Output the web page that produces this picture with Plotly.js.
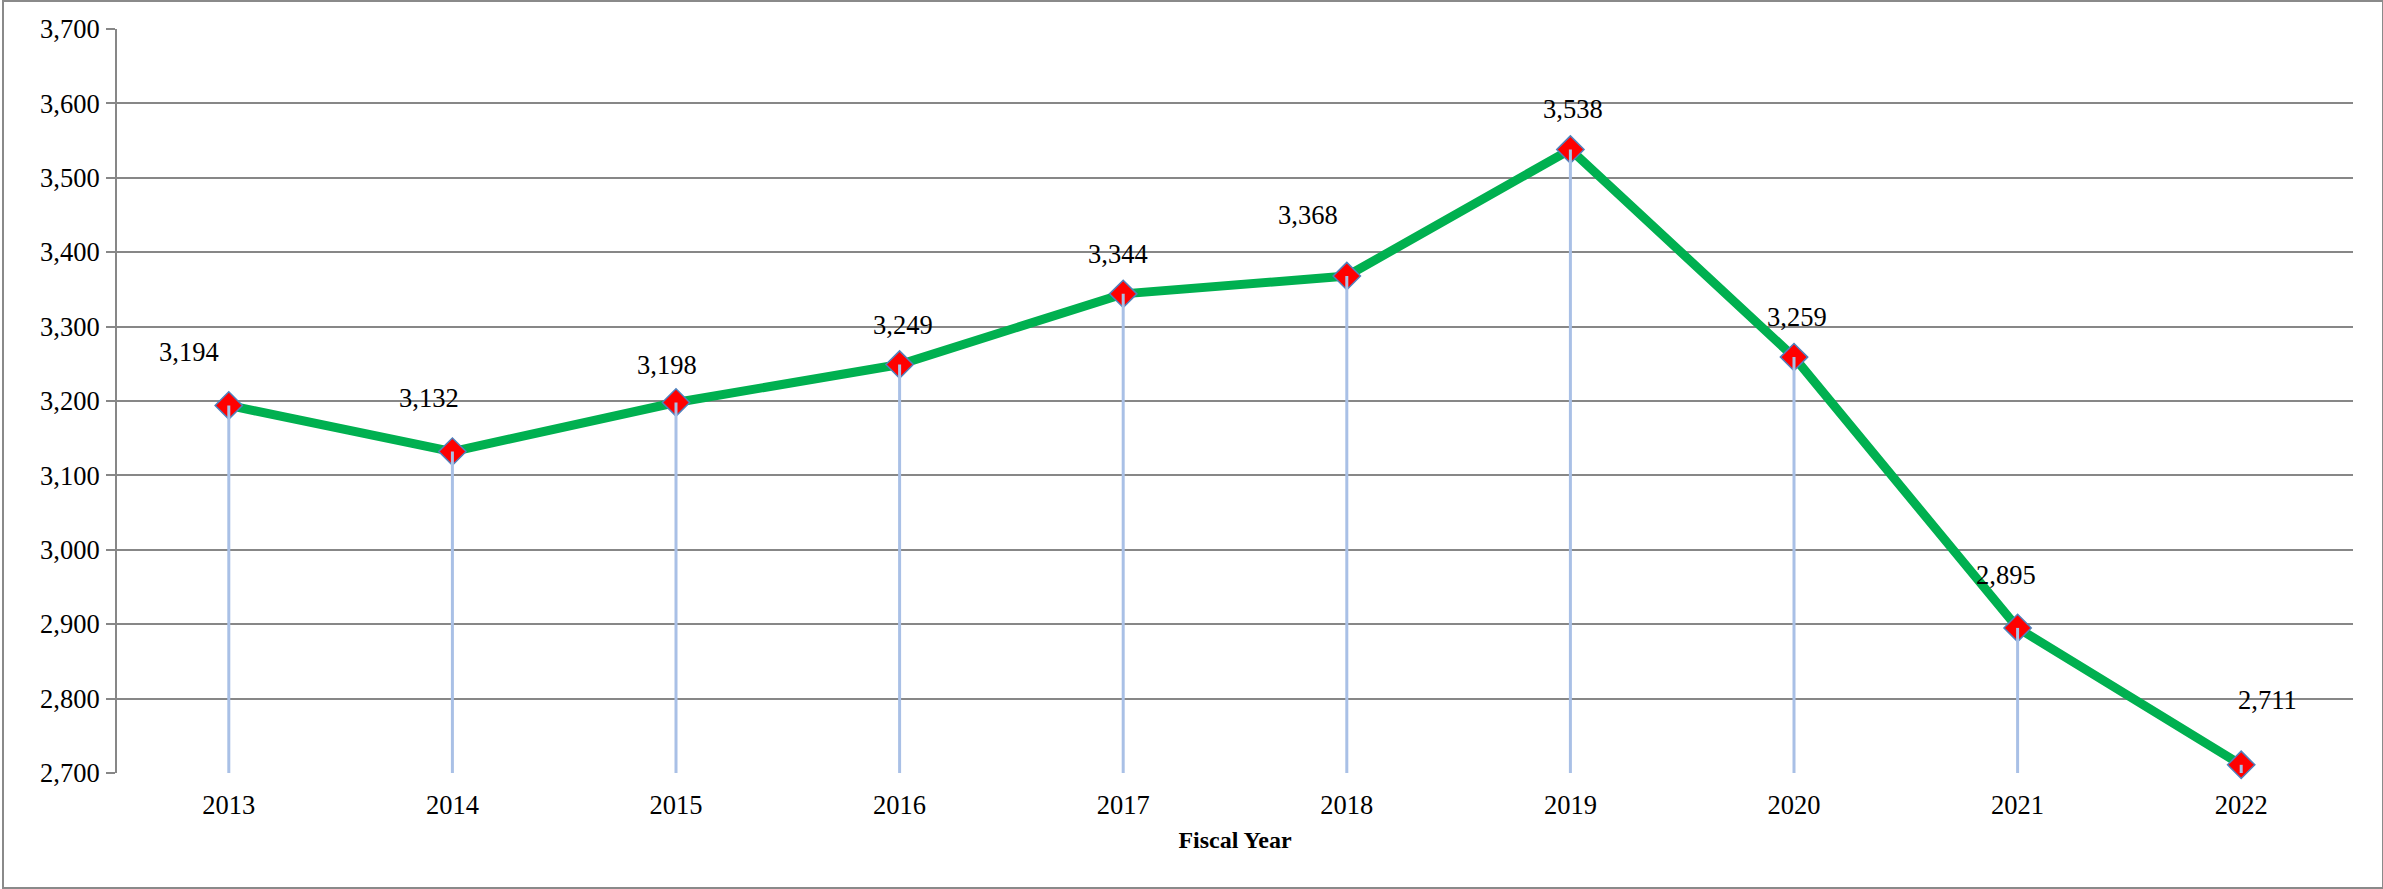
<!DOCTYPE html>
<html>
<head>
<meta charset="utf-8">
<script src="https://cdn.plot.ly/plotly-3.0.1.min.js"></script>
<style>
html, body { margin: 0; padding: 0; background: #ffffff; }
#chart { width: 2383px; height: 889px; }
#frame { position: absolute; left: 2px; top: 0px; width: 2378px; height: 885px; border: 2px solid #8a8a8a; pointer-events: none; }
</style>
</head>
<body>
<div id="chart"></div>
<div id="frame"></div>
<script>
// Data
const years = ["2013", "2014", "2015", "2016", "2017", "2018", "2019", "2020", "2021", "2022"];
const values = [3194, 3132, 3198, 3249, 3344, 3368, 3538, 3259, 2895, 2711];
const yTickVals = [2700, 2800, 2900, 3000, 3100, 3200, 3300, 3400, 3500, 3600, 3700];
const xTitle = "Fiscal Year";

// Label offsets (style, pixels)
const labelDx = [-40, -23, -9, 3, -5, -39, 3, 3, -12, 26];
const labelDy = [53, 54, 37, 40, 40, 61, 41, 40, 53, 65];

const FONT = "Liberation Serif, Times New Roman, serif";
const FS = 26.5;
const yMin = yTickVals[0];

const traces = [];
traces.push({
  type: "scatter", mode: "lines+markers",
  x: years, y: values,
  line: { color: "#00b050", width: 9 },
  marker: { symbol: "diamond", size: 21, color: "#ff0000", line: { color: "#4f81bd", width: 1.5 } },
  hoverinfo: "skip", showlegend: false, cliponaxis: false
});
years.forEach((yr, i) => {
  traces.push({
    type: "scatter", mode: "lines",
    x: [yr, yr], y: [yMin, values[i]],
    line: { color: "#a9c0e6", width: 3 },
    hoverinfo: "skip", showlegend: false
  });
});

const annotations = years.map((yr, i) => ({
  x: i, y: values[i], xref: "x", yref: "y",
  text: values[i].toLocaleString("en-US"),
  showarrow: false, xanchor: "center", yanchor: "middle",
  xshift: labelDx[i], yshift: labelDy[i],
  font: { family: FONT, size: FS, color: "#000000" }
}));

const layout = {
  width: 2383, height: 889,
  margin: { l: 117, r: 30, t: 29, b: 116, pad: 0 },
  paper_bgcolor: "#ffffff", plot_bgcolor: "#ffffff",
  font: { family: FONT, size: FS, color: "#000000" },
  showlegend: false,
  xaxis: {
    type: "category", range: [-0.5, 9.5],
    showgrid: false, zeroline: false,
    showline: false, ticks: "", ticklabelstandoff: 13,
    tickfont: { family: FONT, size: FS, color: "#000000" },
    title: { text: xTitle, font: { family: FONT, size: 24, color: "#000000", weight: "bold" }, standoff: 12 }
  },
  yaxis: {
    range: [yTickVals[0], yTickVals[yTickVals.length - 1]],
    tickvals: yTickVals, tickformat: ",d",
    showgrid: true, gridcolor: "#878787", gridwidth: 2,
    zeroline: false,
    showline: true, linecolor: "#878787", linewidth: 2,
    ticks: "outside", ticklen: 9, tickwidth: 2, tickcolor: "#878787",
    ticklabelstandoff: 1,
    tickfont: { family: FONT, size: FS, color: "#000000" }
  },
  annotations: annotations
};

Plotly.newPlot("chart", traces, layout, { displayModeBar: false, staticPlot: true });
</script>
</body>
</html>
